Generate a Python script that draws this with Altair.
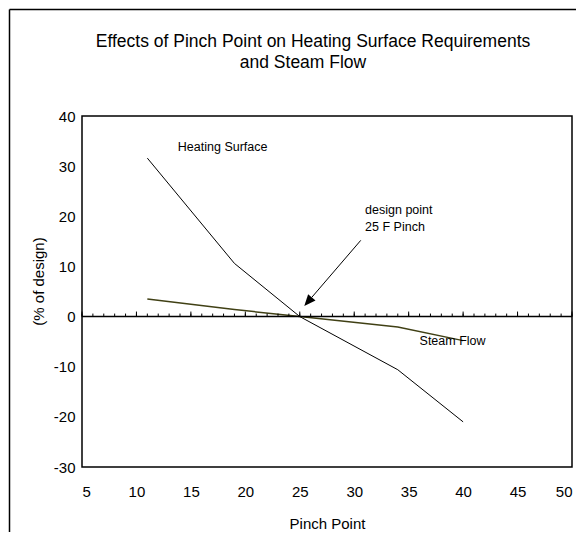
import altair as alt
import pandas as pd

# ---- data ----
pinch = [11, 19, 25, 34, 40]
heating_surface = [31.6, 10.6, 0.0, -10.6, -21.0]
steam_flow = [3.5, 1.4, 0.0, -2.1, -4.8]

x_ticks = list(range(5, 51, 5))
y_ticks = list(range(-30, 41, 10))
minor_ticks = list(range(5, 51))

title_lines = ["Effects of Pinch Point on Heating Surface Requirements", "and Steam Flow"]

label_text = ["Heating Surface", "Steam Flow", "design point", "25 F Pinch"]
label_x = [13.8, 36.0, 31.0, 31.0]
label_y = [33.9, -4.8, 21.35, 17.96]

arrow_x = [30.6, 26.1]
arrow_y = [15.2, 3.83]
arrow_tip_x = [25.76]
arrow_tip_y = [2.97]

FONT = "Liberation Sans"

xs = alt.Scale(domain=[5, 50], nice=False, zero=False)
ys = alt.Scale(domain=[-30, 40], nice=False, zero=False)

x_axis = alt.Axis(values=x_ticks, title="Pinch Point", ticks=False, tickSize=0, domain=False,
                  grid=False, labelFont=FONT, labelFontSize=15, labelColor="black",
                  labelPadding=24, labelBaseline="middle", titleFont=FONT, titleFontSize=15,
                  titleFontWeight="normal", titleColor="black", titleY=56, titleBaseline="middle",
                  labelExpr="'' + datum.value")
y_axis = alt.Axis(values=y_ticks, title="(% of design)", ticks=False, tickSize=0, domain=False,
                  grid=False, labelFont=FONT, labelFontSize=15, labelColor="black",
                  labelPadding=7, titleFont=FONT, titleFontSize=15, titleFontWeight="normal",
                  titleColor="black", titleX=-44, titleY=165, titleBaseline="middle",
                  labelExpr="'' + datum.value")

hs_df = pd.DataFrame({"pinch": pinch, "value": heating_surface})
sf_df = pd.DataFrame({"pinch": pinch, "value": steam_flow})

hs = alt.Chart(hs_df).mark_line(color="black", strokeWidth=1).encode(
    x=alt.X("pinch:Q", scale=xs, axis=x_axis),
    y=alt.Y("value:Q", scale=ys, axis=y_axis),
)
sf = alt.Chart(sf_df).mark_line(color="#404015", strokeWidth=1.5).encode(
    x=alt.X("pinch:Q", scale=xs),
    y=alt.Y("value:Q", scale=ys),
)

zero = alt.Chart(pd.DataFrame({"value": [0]})).mark_rule(color="black", strokeWidth=1.5).encode(
    y=alt.Y("value:Q", scale=ys)
)
minor = alt.Chart(pd.DataFrame({"pinch": minor_ticks})).mark_rule(color="black", strokeWidth=1).encode(
    x=alt.X("pinch:Q", scale=xs), y=alt.datum(0), y2=alt.datum(0.6)
)
major = alt.Chart(pd.DataFrame({"pinch": x_ticks})).mark_rule(color="black", strokeWidth=1).encode(
    x=alt.X("pinch:Q", scale=xs), y=alt.datum(0), y2=alt.datum(1.0)
)

arrow = alt.Chart(pd.DataFrame({"pinch": arrow_x, "value": arrow_y})).mark_line(
    color="black", strokeWidth=1).encode(
    x=alt.X("pinch:Q", scale=xs), y=alt.Y("value:Q", scale=ys)
)
arrow_head = alt.Chart(pd.DataFrame({"pinch": arrow_tip_x, "value": arrow_tip_y})).mark_point(
    shape="M0,-1L-0.85,1L0.85,1Z", filled=True, size=132, angle=221, color="black", opacity=1
).encode(x=alt.X("pinch:Q", scale=xs), y=alt.Y("value:Q", scale=ys))

labels = alt.Chart(pd.DataFrame({"pinch": label_x, "value": label_y, "label": label_text})).mark_text(
    align="left", baseline="middle", font=FONT, fontSize=12.5, color="black"
).encode(x=alt.X("pinch:Q", scale=xs), y=alt.Y("value:Q", scale=ys), text="label:N")

one = pd.DataFrame({"a": [0]})
t1 = alt.Chart(one).mark_text(align="center", baseline="middle", font=FONT, fontSize=17.5,
                              color="black", text=title_lines[0]).encode(
    x=alt.value(231), y=alt.value(-74.5))
t2 = alt.Chart(one).mark_text(align="center", baseline="middle", font=FONT, fontSize=17.5,
                              color="black", text=title_lines[1]).encode(
    x=alt.value(221), y=alt.value(-53.5))

frame_top = alt.Chart(one).mark_rule(color="black", strokeWidth=1.5).encode(
    x=alt.value(-72.5), x2=alt.value(494), y=alt.value(-106.5))
frame_left = alt.Chart(one).mark_rule(color="black", strokeWidth=1.5).encode(
    x=alt.value(-72.5), y=alt.value(-106.5), y2=alt.value(416))

chart = alt.layer(
    hs, sf, zero, minor, major, arrow, arrow_head, labels, t1, t2, frame_top, frame_left
).properties(
    width=490, height=351, padding=0, background="white"
).configure_view(
    stroke="black", strokeWidth=1.5
)

chart.save("out.html", embed_options={"renderer": "svg", "actions": False})
